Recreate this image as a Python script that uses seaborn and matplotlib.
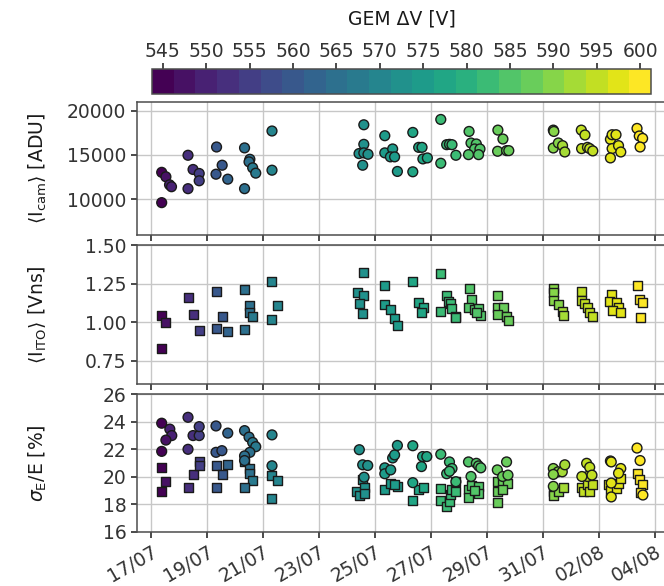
import numpy as np
import pandas as pd
import seaborn as sns
import matplotlib
matplotlib.use('Agg')
from matplotlib import pyplot as plt
import matplotlib.dates as mdates

# --- Данные (время в днях июля) ---
icam_t = [17.39, 17.54, 17.67, 17.74, 17.39, 18.33, 18.33, 18.51, 18.73, 18.73, 19.35, 19.33, 19.55, 19.75,
          20.35, 20.35, 20.54, 20.51, 20.64, 20.75, 21.33, 21.33,
          24.61, 24.61, 24.44, 24.61, 24.76, 24.57, 25.36, 25.36, 25.64, 25.56, 25.71, 25.81,
          26.36, 26.36, 26.57, 26.69, 26.72, 26.88, 27.36, 27.36, 27.57, 27.67, 27.76, 27.9,
          28.37, 28.44, 28.63, 28.57, 28.76, 28.71, 28.35, 29.4, 29.58, 29.39, 29.71, 29.79,
          31.38, 31.4, 31.38, 31.56, 31.71, 31.79, 32.38, 32.51, 32.39, 32.6, 32.68, 32.79,
          33.42, 33.48, 33.62, 33.48, 33.71, 33.79, 33.42, 34.37, 34.45, 34.57, 34.48]
icam_val = [13050, 12550, 11650, 11430, 9640, 14970, 11210, 13370, 12920, 12100, 15900, 12840, 13850, 12280,
            15800, 11210, 14520, 14230, 13560, 12960, 17700, 13290,
            18400, 16200, 15160, 15240, 15080, 13850, 17170, 15240, 15680, 14790, 14790, 13150,
            17540, 13110, 15860, 15860, 14560, 14670, 19000, 14070, 16160, 16200, 16160, 14970,
            17650, 16350, 16240, 15680, 15680, 15040, 15040, 17800, 16800, 15420, 15490, 15490,
            17800, 17650, 15790, 16350, 16050, 15340, 17800, 17250, 15720, 15860, 15720, 15460,
            16760, 17280, 17280, 15720, 16050, 15340, 14670, 17990, 17140, 16870, 15900]

ito_t = [17.39, 17.54, 17.39, 18.33, 18.51, 18.73, 19.35, 19.33, 19.55, 19.75, 20.35, 20.35, 20.54, 20.51,
         20.64, 21.33, 21.33, 21.52,
         24.61, 24.37, 24.61, 24.45, 24.56, 25.36, 25.36, 25.57, 25.71, 25.81,
         26.36, 26.57, 26.74, 26.67, 27.36, 27.36, 27.57, 27.64, 27.69, 27.76, 27.9, 27.9,
         28.37, 28.44, 28.35, 28.55, 28.71, 28.79, 28.64, 29.4, 29.38, 29.6, 29.4, 29.71, 29.78,
         31.38, 31.38, 31.38, 31.57, 31.7, 31.76, 32.38, 32.38, 32.51, 32.6, 32.68, 32.77,
         33.45, 33.37, 33.62, 33.7, 33.48, 33.79, 34.37, 34.45, 34.57, 34.48]
ito_val = [1.045, 0.998, 0.827, 1.162, 1.052, 0.944, 1.197, 0.959, 1.035, 0.938, 1.21, 0.955, 1.108, 1.061,
           1.039, 1.266, 1.018, 1.106,
           1.325, 1.191, 1.173, 1.123, 1.056, 1.236, 1.117, 1.082, 1.022, 0.979,
           1.266, 1.126, 1.095, 1.061, 1.318, 1.069, 1.175, 1.132, 1.121, 1.087, 1.039, 1.03,
           1.219, 1.147, 1.097, 1.082, 1.087, 1.041, 1.06, 1.173, 1.097, 1.093, 1.052, 1.035, 1.013,
           1.217, 1.19, 1.141, 1.115, 1.071, 1.044, 1.201, 1.141, 1.121, 1.093, 1.065, 1.035,
           1.18, 1.136, 1.126, 1.093, 1.076, 1.065, 1.24, 1.147, 1.126, 1.028]

res_cam_t = [17.39, 17.68, 17.75, 17.54, 17.39, 18.33, 18.33, 18.51, 18.73, 18.73, 19.33, 19.75, 19.33, 19.54,
             20.35, 20.51, 20.64, 20.75, 20.54, 20.35, 21.33, 21.33, 20.35,
             24.45, 24.57, 24.75, 24.62, 25.36, 25.36, 25.57, 25.64, 25.71, 25.81,
             26.36, 26.36, 26.71, 26.86, 26.67, 27.36, 27.67, 27.76, 27.57, 27.67, 27.9,
             28.35, 28.63, 28.71, 28.79, 28.44, 29.38, 29.71, 29.57, 29.76,
             31.38, 31.55, 31.7, 31.79, 31.38, 31.38, 32.57, 32.68, 32.6, 32.76, 32.4,
             33.42, 33.45, 33.79, 33.71, 33.45, 33.45, 34.37, 34.48, 34.58]
res_cam_val = [23.9, 23.47, 23.0, 22.67, 21.85, 24.33, 22.0, 23.0, 23.0, 23.65, 23.7, 23.18, 21.78, 21.9,
               23.36, 22.89, 22.5, 22.19, 21.78, 21.52, 23.05, 20.8, 21.18,
               21.97, 20.87, 20.82, 19.97, 20.65, 20.22, 20.5, 21.37, 21.59, 22.28,
               22.26, 19.57, 21.47, 21.47, 20.74, 21.64, 21.08, 20.6, 20.22, 20.4, 19.64,
               21.08, 20.98, 20.79, 20.65, 20.02, 20.5, 21.08, 20.02, 20.12,
               20.6, 20.36, 20.36, 20.87, 20.17, 19.3, 20.98, 20.69, 20.02, 20.12, 20.02,
               21.15, 21.08, 20.6, 20.26, 19.54, 18.53, 22.09, 21.18, 18.67]

res_ito_t = [17.39, 17.54, 17.39, 18.33, 18.51, 18.73, 18.73, 19.33, 19.55, 19.75, 19.33,
             20.35, 20.54, 20.51, 20.64, 20.35, 21.33, 21.52, 21.33,
             24.57, 24.36, 24.45, 24.62, 24.62, 25.36, 25.57, 25.81, 25.69,
             26.36, 26.57, 26.74, 27.36, 27.36, 27.57, 27.67, 27.69, 27.76, 27.9, 27.9,
             28.35, 28.44, 28.35, 28.71, 28.71, 28.55, 29.38, 29.57, 29.76, 29.38, 29.4, 29.57,
             31.38, 31.38, 31.56, 31.76, 32.38, 32.45, 32.6, 32.69, 32.77,
             33.36, 33.43, 33.62, 33.71, 33.79, 34.37, 34.45, 34.57, 34.48]
res_ito_val = [20.67, 19.66, 18.96, 19.25, 20.17, 21.08, 20.82, 20.8, 20.17, 20.89, 19.25,
               21.08, 20.58, 20.22, 19.75, 19.25, 20.07, 19.75, 18.45,
               19.78, 18.92, 18.67, 19.2, 18.77, 19.06, 19.54, 19.32, 19.4,
               18.27, 19.06, 19.2, 19.15, 18.29, 17.86, 18.2, 18.72, 19.06, 19.64, 18.96,
               19.06, 19.35, 18.48, 19.3, 18.77, 19.01, 19.68, 19.59, 19.49, 18.14, 18.96, 19.06,
               18.96, 18.67, 18.92, 19.2, 19.2, 18.92, 19.44, 18.96, 19.44,
               19.4, 19.01, 19.15, 19.54, 19.88, 20.26, 19.78, 19.44, 18.84]

# расписание напряжения GEM: начало шага (день июля) -> ΔV
hv_start = [17.0, 17.45, 17.6, 18.2, 18.6, 19.2, 19.6, 20.2, 20.6, 21.2, 24.2,
            25.2, 26.2, 27.2, 28.2, 29.2, 31.2, 31.6, 32.2, 33.2, 34.2]
hv_value = [545, 547.5, 550, 552.5, 555, 560, 562.5, 565, 567.5, 570, 572.5,
            575, 577.5, 582.5, 585, 587.5, 590, 592.5, 595, 597.5, 600]

tick_dates = ['17/07', '19/07', '21/07', '23/07', '25/07', '27/07', '29/07', '31/07', '02/08', '04/08']
cbar_ticks = [545, 550, 555, 560, 565, 570, 575, 580, 585, 590, 595, 600]

base = pd.Timestamp('2023-07-01')


def make_df(t, val):
    t = np.array(t)
    hv = np.array(hv_value)[np.searchsorted(hv_start, t, side='right') - 1]
    return pd.DataFrame({'time': base + pd.to_timedelta(t - 1, unit='D'), 'val': val, 'hv': hv})


sns.set_theme(style="whitegrid")
plt.rcParams.update({
    'font.family': ['DejaVu Sans'],
    'font.size': 13.5,
    'axes.labelsize': 13.5,
    'xtick.labelsize': 13.5,
    'ytick.labelsize': 13.5,
    'axes.edgecolor': '0.3',
    'axes.linewidth': 1.1,
    'grid.color': '0.78',
    'grid.linewidth': 1.0,
    'xtick.bottom': True,
    'ytick.left': True,
    'xtick.major.size': 4,
    'ytick.major.size': 4,
    'xtick.color': '0.2',
    'ytick.color': '0.2',
    'text.color': '0.1',
    'axes.labelcolor': '0.1',
})

cmap = plt.get_cmap('viridis', 23)
norm = matplotlib.colors.Normalize(vmin=543.75, vmax=601.25)

fig = plt.figure(figsize=(6.64, 5.86), dpi=100)
ax1 = fig.add_axes([0.206, 0.599, 0.801, 0.2275])
ax2 = fig.add_axes([0.206, 0.3447, 0.801, 0.2372], sharex=ax1)
ax3 = fig.add_axes([0.206, 0.0927, 0.801, 0.2343], sharex=ax1)
cax = fig.add_axes([0.229, 0.8396, 0.7515, 0.0427])

kw = dict(x='time', y='val', hue='hv', palette=cmap, hue_norm=norm, legend=False,
          edgecolor='0.1', linewidth=1.0)

sns.scatterplot(data=make_df(icam_t, icam_val), marker='o', s=50, ax=ax1, **kw)
sns.scatterplot(data=make_df(ito_t, ito_val), marker='s', s=42, ax=ax2, **kw)
sns.scatterplot(data=make_df(res_ito_t, res_ito_val), marker='s', s=42, ax=ax3, **kw)
sns.scatterplot(data=make_df(res_cam_t, res_cam_val), marker='o', s=50, ax=ax3, **kw)

ax1.set_ylim(6000, 21000)
ax1.set_yticks([10000, 15000, 20000])
ax2.set_ylim(0.6, 1.5)
ax2.set_yticks([0.75, 1.00, 1.25, 1.50])
ax3.set_ylim(16, 26)
ax3.set_yticks([16, 18, 20, 22, 24, 26])

ax1.set_ylabel(r'$\langle$I$_{\rm cam}\rangle$ [ADU]')
ax2.set_ylabel(r'$\langle$I$_{\rm ITO}\rangle$ [Vns]')
ax3.set_ylabel(r'$\sigma_{\rm E}$/E [%]')
for ax in (ax1, ax2, ax3):
    ax.set_xlabel('')
    ax.yaxis.set_label_coords(-0.165, 0.5)
    ax.grid(True)

ticks = pd.to_datetime([d + '/2023' for d in tick_dates], format='%d/%m/%Y')
ax3.set_xticks(ticks)
ax3.xaxis.set_major_formatter(mdates.DateFormatter('%d/%m'))
ax3.set_xlim(pd.Timestamp('2023-07-16 12:00'), pd.Timestamp('2023-08-04 12:00'))
plt.setp(ax1.get_xticklabels(), visible=False)
plt.setp(ax2.get_xticklabels(), visible=False)
plt.setp(ax3.get_xticklabels(), rotation=30, ha='right', rotation_mode='anchor')

sm = matplotlib.cm.ScalarMappable(norm=norm, cmap=cmap)
cb = fig.colorbar(sm, cax=cax, orientation='horizontal', ticks=cbar_ticks)
cax.xaxis.set_ticks_position('top')
cax.xaxis.set_label_position('top')
cax.tick_params(pad=2)
cb.set_label('GEM ΔV [V]', labelpad=12)
cb.outline.set_edgecolor('0.3')

fig.savefig('out.png', dpi=100)
